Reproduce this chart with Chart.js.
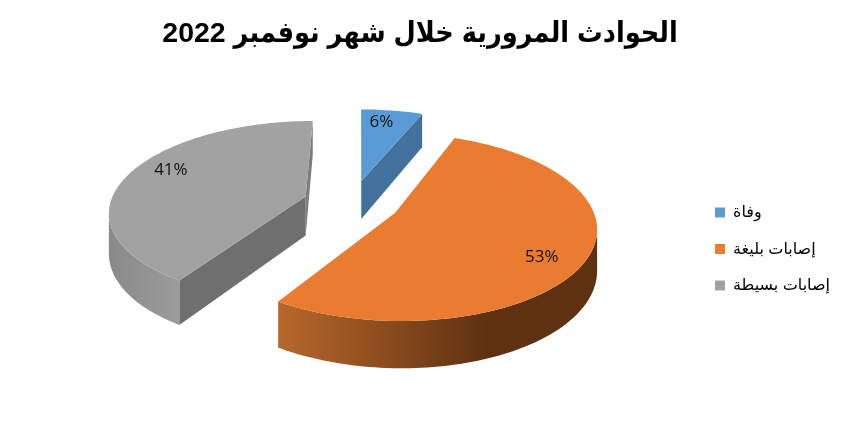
<!DOCTYPE html>
<html lang="ar">
<head>
<meta charset="utf-8">
<title>الحوادث المرورية</title>
<script src="https://cdn.jsdelivr.net/npm/chart.js@4/dist/chart.umd.min.js"></script>
<style>
  html, body { margin: 0; padding: 0; background: #fff; }
  #wrap { width: 846px; height: 435px; }
</style>
</head>
<body>
<div id="wrap"><canvas id="chart" width="846" height="435" dir="rtl"></canvas></div>
<script>
const chartTitle = "الحوادث المرورية خلال شهر نوفمبر 2022";
const categories = ["وفاة", "إصابات بليغة", "إصابات بسيطة"];
const shares = [6, 53, 41];

const topColors = ["#5b9bd5", "#e97c30", "#a2a2a2"];
const cutColors = [["#41719c", "#41719c"], ["#a85a22", "#a85a22"], ["#6f6f6f", "#7c7c7c"]];
const wallStops = [
  [[0, "#41719c"], [1, "#41719c"]],
  [[0, "#b8682c"], [0.66, "#5e3110"], [1, "#5e3110"]],
  [[0, "#8a8a8a"], [1, "#9c9c9c"]]
];
const explosions = [25.5, 24.5, 25];
const labelShiftDeg = [-2.3, 6.5, 7];

// perspective camera, fitted on the picture (vanishing point of the vertical slice edge)
const cam = { vpX: 360, horizon: -383, dist: 596, tilt: 0.154, focal: 198.7, depth: 40, cu: -0.041, cv: 0.115 };

function project(u, v) {
  const w = 1 + cam.tilt * v;
  return { x: cam.vpX + cam.focal * u / w, y: cam.horizon + cam.dist / w, w };
}

function lower(p) {
  return { x: p.x, y: p.y + cam.depth / p.w };
}

function signedArea(pts) {
  let s = 0;
  pts.forEach((p, i) => {
    const q = pts[(i + 1) % pts.length];
    s += p.x * q.y - q.x * p.y;
  });
  return s;
}

function fillPoly(ctx, pts, color) {
  ctx.beginPath();
  pts.forEach((p, i) => i ? ctx.lineTo(p.x, p.y) : ctx.moveTo(p.x, p.y));
  ctx.closePath();
  ctx.fillStyle = color;
  ctx.fill();
}

// angles of chart.js start at 3 o'clock, here they are clockwise from the top
function sliceGeom(arc) {
  const a0 = arc.startAngle + Math.PI / 2;
  const a1 = arc.endAngle + Math.PI / 2;
  const mid = (a0 + a1) / 2;
  const explode = arc.options.offset / 100;
  const cu = cam.cu + explode * Math.sin(mid);
  const cv = cam.cv + explode * Math.cos(mid);
  return { a0, a1, mid, cu, cv };
}

const pie3d = {
  id: "pie3d",
  beforeDatasetsDraw(chart) {
    const ctx = chart.ctx;
    const arcs = chart.getDatasetMeta(0).data;
    const order = arcs.map((arc, i) => ({ i, g: sliceGeom(arc) })).sort((a, b) => b.g.cv - a.g.cv);

    ctx.save();
    order.forEach(({ i, g }) => {
      const apex = project(g.cu, g.cv);
      const rim = [];
      const steps = Math.max(8, Math.round((g.a1 - g.a0) * 40));
      for (let s = 0; s <= steps; s++) {
        const t = g.a0 + (g.a1 - g.a0) * s / steps;
        rim.push(project(g.cu + Math.sin(t), g.cv + Math.cos(t)));
      }

      const grad = ctx.createLinearGradient(i === 1 ? 276 : 111, 0, i === 1 ? 597 : 181, 0);
      wallStops[i].forEach(s => grad.addColorStop(s[0], s[1]));

      // cut faces first, then the curved wall, the top goes over them
      const cutA = [apex, rim[0], lower(rim[0]), lower(apex)];
      const cutB = [rim[steps], apex, lower(apex), lower(rim[steps])];
      if (signedArea(cutA) < 0) fillPoly(ctx, cutA, cutColors[i][0]);
      if (signedArea(cutB) < 0) fillPoly(ctx, cutB, cutColors[i][1]);

      const seen = [];
      for (let s = 0; s < steps; s++) {
        const quad = [rim[s], rim[s + 1], lower(rim[s + 1]), lower(rim[s])];
        if (signedArea(quad) < 0) seen.push(s);
      }
      if (seen.length) {
        const edge = rim.slice(seen[0], seen[seen.length - 1] + 2);
        fillPoly(ctx, edge.concat(edge.map(lower).reverse()), grad);
      }
      fillPoly(ctx, [apex].concat(rim), topColors[i]);
    });

    // percent labels sit on the top face
    const total = shares.reduce((a, b) => a + b, 0);
    ctx.direction = "ltr";
    ctx.font = '17px "Open Sans", sans-serif';
    ctx.fillStyle = "#111";
    ctx.textAlign = "center";
    ctx.textBaseline = "middle";
    arcs.forEach((arc, i) => {
      const g = sliceGeom(arc);
      const t = g.mid + labelShiftDeg[i] * Math.PI / 180;
      const p = project(g.cu + 0.81 * Math.sin(t), g.cv + 0.81 * Math.cos(t));
      ctx.fillText(Math.round(shares[i] / total * 100) + "%", p.x, p.y);
    });
    ctx.restore();
    return false;
  }
};

new Chart(document.getElementById("chart"), {
  type: "pie",
  data: {
    labels: categories,
    datasets: [{ data: shares, backgroundColor: topColors, offset: explosions, borderWidth: 0 }]
  },
  options: {
    responsive: false,
    animation: false,
    layout: { padding: { right: 6 } },
    plugins: {
      tooltip: { enabled: false },
      title: {
        display: true,
        text: chartTitle,
        color: "#000",
        font: { family: '"Liberation Sans", "DejaVu Sans Condensed", "DejaVu Sans", sans-serif', size: 28.5, weight: "bold" },
        padding: { top: 17, bottom: 12 }
      },
      legend: {
        position: "right",
        fullSize: false,
        labels: {
          boxWidth: 10,
          boxHeight: 10,
          padding: 20.5,
          color: "#000",
          font: { family: '"Liberation Sans", "DejaVu Sans", sans-serif', size: 16 }
        }
      }
    }
  },
  plugins: [pie3d]
});
</script>
</body>
</html>
